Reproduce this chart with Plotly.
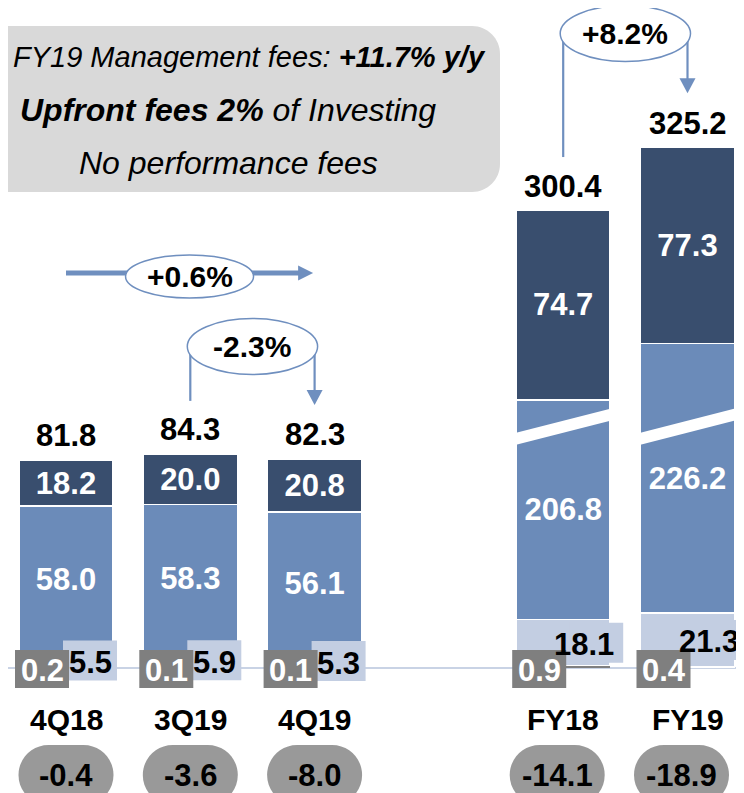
import plotly.graph_objects as go

# ---------------- data ----------------
categories = ["4Q18", "3Q19", "4Q19", "FY18", "FY19"]
positions = [0, 1, 2, 4, 5]
other_fees = [0.2, 0.1, 0.1, 0.9, 0.4]          # grey box labels
upfront_fees = [5.5, 5.9, 5.3, 18.1, 21.3]      # light segment
management_fees = [58.0, 58.3, 56.1, 206.8, 226.2]  # mid segment
top_fees = [18.2, 20.0, 20.8, 74.7, 77.3]       # dark segment
totals = [81.8, 84.3, 82.3, 300.4, 325.2]
bottom_values = [-0.4, -3.6, -8.0, -14.1, -18.9]
broken = [False, False, False, True, True]
axis_break = 120.2   # units cut out of the broken FY bars

change_labels = ["+0.6%", "-2.3%", "+8.2%"]
change_from = [0, 1, 3]   # index into categories
change_to = [2, 2, 4]

box_lines = [
    "<i>FY19 Management fees: <b>+11.7% y/y</b></i>",
    "<i><b>Upfront fees 2%</b> of Investing</i>",
    "<i>No performance fees</i>",
]

# ---------------- style ----------------
VW, VH = 744, 793          # browser window
OFF = 8                    # default page margin around the figure
W, H = VW - OFF, VH - OFF  # figure size
SX, X0, SY, Y0 = 124.3, 66.0, 2.54, 668.0   # window-pixel scale of the data
FONT = "Arial, Liberation Sans, sans-serif"
DARK = "#394E6E"
MID = "#6B8BB9"
LIGHT = "#C3CEE2"
GREYBOX = "#7F7F7F"
PILL = "#999999"
ARROW = "#6F8FBF"
BASE = "#C9D3E5"
BW = 0.756
NUM = 31


def X(px):
    return (px - X0) / SX


def Y(py):
    return (Y0 - py) / SY


def xpx(pos):
    return X0 + SX * pos


def ypx(v):
    return Y0 - SY * v


def rounded_rect_path(x0, y0, x1, y1, r):
    k = 0.5523 * r
    pts = [
        ("M", [(x0 + r, y0)]),
        ("L", [(x1 - r, y0)]),
        ("C", [(x1 - r + k, y0), (x1, y0 + r - k), (x1, y0 + r)]),
        ("L", [(x1, y1 - r)]),
        ("C", [(x1, y1 - r + k), (x1 - r + k, y1), (x1 - r, y1)]),
        ("L", [(x0 + r, y1)]),
        ("C", [(x0 + r - k, y1), (x0, y1 - r + k), (x0, y1 - r)]),
        ("L", [(x0, y0 + r)]),
        ("C", [(x0, y0 + r - k), (x0 + r - k, y0), (x0 + r, y0)]),
    ]
    s = ""
    for cmd, ps in pts:
        s += cmd + " " + " ".join(f"{X(px):.5f},{Y(py):.5f}" for px, py in ps) + " "
    return s + "Z"


def poly_path(pts):
    s = "M " + " L ".join(f"{X(px):.5f},{Y(py):.5f}" for px, py in pts)
    return s + " Z"


plot_mid = [m - axis_break if b else m for m, b in zip(management_fees, broken)]
plot_top = [g + u + m + d for g, u, m, d in zip(other_fees, upfront_fees, plot_mid, top_fees)]

fig = go.Figure()
fig.add_bar(x=positions, y=other_fees, width=BW, marker=dict(color=GREYBOX, line=dict(width=0)),
            hoverinfo="skip")
fig.add_bar(x=positions, y=upfront_fees, width=BW,
            marker=dict(color=LIGHT, line=dict(color="white", width=1.5)), hoverinfo="skip")
fig.add_bar(x=positions, y=plot_mid, width=BW,
            marker=dict(color=MID, line=dict(color="white", width=1.5)),
            text=[f"{v:.1f}" for v in management_fees], texttemplate="%{text}",
            textposition="inside", insidetextanchor="middle", textangle=0, constraintext="none",
            textfont=dict(color="white", size=NUM, family=FONT, weight="bold"), hoverinfo="skip")
fig.add_bar(x=positions, y=top_fees, width=BW,
            marker=dict(color=DARK, line=dict(color="white", width=1.5)),
            text=[f"{v:.1f}" for v in top_fees], texttemplate="%{text}",
            textposition="inside", insidetextanchor="middle", textangle=0, constraintext="none",
            textfont=dict(color="white", size=NUM, family=FONT, weight="bold"), hoverinfo="skip")

shapes = []
ann = []

# baseline
shapes.append(dict(type="line", xref="x", yref="y", x0=X(4), x1=X(VW), y0=0, y1=0,
                   line=dict(color=BASE, width=2), layer="below"))

for i, pos in enumerate(positions):
    cx = xpx(pos)
    # axis-break band
    if broken[i]:
        yc = ypx(95.0)
        half, slope = 50, 24 / 94
        pts = [(cx - half, yc + half * slope - 6), (cx + half, yc - half * slope - 6),
               (cx + half, yc - half * slope + 6), (cx - half, yc + half * slope + 6)]
        shapes.append(dict(type="path", xref="x", yref="y", path=poly_path(pts),
                           fillcolor="white", line=dict(width=0), layer="above"))
    # light label box
    seg_c = ypx(other_fees[i] + upfront_fees[i] / 2)
    if broken[i]:
        bx0, bx1 = cx + 6, cx + 60
        tx = cx + 21
    else:
        bx0, bx1 = cx - 3, cx + 51
        tx = cx + 24
    shapes.append(dict(type="rect", xref="x", yref="y", x0=X(bx0), x1=X(bx1),
                       y0=Y(seg_c + 20), y1=Y(seg_c - 20), fillcolor=LIGHT,
                       line=dict(width=0), layer="above"))
    ann.append(dict(x=X(tx), y=Y(seg_c + 2), xref="x", yref="y", showarrow=False,
                    text=f"<b>{upfront_fees[i]:.1f}</b>",
                    font=dict(size=NUM, color="black", family=FONT)))
    # grey label box
    shapes.append(dict(type="rect", xref="x", yref="y", x0=X(cx - 51), x1=X(cx + 3),
                       y0=Y(688), y1=Y(650), fillcolor=GREYBOX, line=dict(width=0), layer="above"))
    ann.append(dict(x=X(cx - 24), y=Y(670), xref="x", yref="y", showarrow=False,
                    text=f"<b>{other_fees[i]:.1f}</b>",
                    font=dict(size=NUM, color="white", family=FONT)))
    # total
    ann.append(dict(x=pos, y=plot_top[i], xref="x", yref="y", showarrow=False, yshift=24,
                    text=f"<b>{totals[i]:.1f}</b>", font=dict(size=NUM, color="black", family=FONT)))
    # category
    ann.append(dict(x=pos, y=Y(719), xref="x", yref="y", showarrow=False,
                    text=f"<b>{categories[i]}</b>", font=dict(size=30, color="black", family=FONT)))
    # pill
    pc = cx - (6 if broken[i] else 0)
    shapes.append(dict(type="path", xref="x", yref="y",
                       path=rounded_rect_path(pc - 47.5, 745, pc + 47.5, 805, 30),
                       fillcolor=PILL, line=dict(width=0), layer="above"))
    ann.append(dict(x=X(pc), y=Y(775), xref="x", yref="y", showarrow=False,
                    text=f"<b>{bottom_values[i]:.1f}</b>",
                    font=dict(size=NUM, color="black", family=FONT)))

# ---------------- change arrows ----------------
ellipses = []
# horizontal arrow (+0.6%)
a, b = positions[change_from[0]], positions[change_to[0]]
xa, xb = xpx(a), xpx(b) - 1.5
yy = 273
shapes.append(dict(type="line", xref="x", yref="y", x0=X(xa), x1=X(xb - 14), y0=Y(yy), y1=Y(yy),
                   line=dict(color=ARROW, width=5), layer="above"))
shapes.append(dict(type="path", xref="x", yref="y",
                   path=poly_path([(xb - 15, yy - 7.5), (xb, yy), (xb - 15, yy + 7.5)]),
                   fillcolor=ARROW, line=dict(width=0), layer="above"))
ellipses.append(((xa + xb) / 2, yy + 3.5, 64, 21.5, change_labels[0]))

# loop arrows (-2.3%, +8.2%)
for k, ecy in ((1, 346.5), (2, 33.5)):
    i0, i1 = change_from[k], change_to[k]
    xa, xb = xpx(positions[i0]), xpx(positions[i1])
    ya = ypx(plot_top[i0]) - 53
    yb = ypx(plot_top[i1]) - 54
    shapes.append(dict(type="line", xref="x", yref="y", x0=X(xa), x1=X(xa), y0=Y(ecy), y1=Y(ya),
                       line=dict(color=ARROW, width=2.2), layer="above"))
    shapes.append(dict(type="line", xref="x", yref="y", x0=X(xb), x1=X(xb), y0=Y(ecy), y1=Y(yb - 14),
                       line=dict(color=ARROW, width=2.2), layer="above"))
    shapes.append(dict(type="path", xref="x", yref="y",
                       path=poly_path([(xb - 8, yb - 15), (xb, yb), (xb + 8, yb - 15)]),
                       fillcolor=ARROW, line=dict(width=0), layer="above"))
    rx = (xb - xa) / 2 + 3
    ellipses.append(((xa + xb) / 2, ecy, rx, 28, change_labels[k]))

for ecx, ecy, rx, ry, lab in ellipses:
    shapes.append(dict(type="circle", xref="x", yref="y", x0=X(ecx - rx), x1=X(ecx + rx),
                       y0=Y(ecy + ry), y1=Y(ecy - ry), fillcolor="white",
                       line=dict(color=ARROW, width=1.5), layer="above"))
    ann.append(dict(x=X(ecx), y=Y(ecy), xref="x", yref="y", showarrow=False,
                    text=f"<b>{lab}</b>", font=dict(size=30, color="black", family=FONT)))

# ---------------- info box ----------------
shapes.append(dict(type="path", xref="x", yref="y", path=rounded_rect_path(-45, 26, 500, 192, 28),
                   fillcolor="#D9D9D9", line=dict(width=0), layer="above"))
ann.append(dict(x=X(11), y=Y(57), xref="x", yref="y", showarrow=False, xanchor="left",
                text=box_lines[0], font=dict(size=29, color="black", family=FONT)))
for line_text, ly in zip(box_lines[1:], [110, 163]):
    ann.append(dict(x=X(228), y=Y(ly), xref="x", yref="y", showarrow=False, text=line_text,
                    font=dict(size=32, color="black", family=FONT)))

fig.update_layout(
    width=W, height=H, autosize=False,
    margin=dict(l=0, r=0, t=0, b=0, pad=0),
    paper_bgcolor="white", plot_bgcolor="white",
    barmode="stack", showlegend=False,
    xaxis=dict(range=[X(OFF), X(VW)], visible=False, fixedrange=True),
    yaxis=dict(range=[Y(VH), Y(OFF)], visible=False, fixedrange=True),
    shapes=shapes, annotations=ann,
    font=dict(family=FONT),
)

fig.write_html("out.html")
